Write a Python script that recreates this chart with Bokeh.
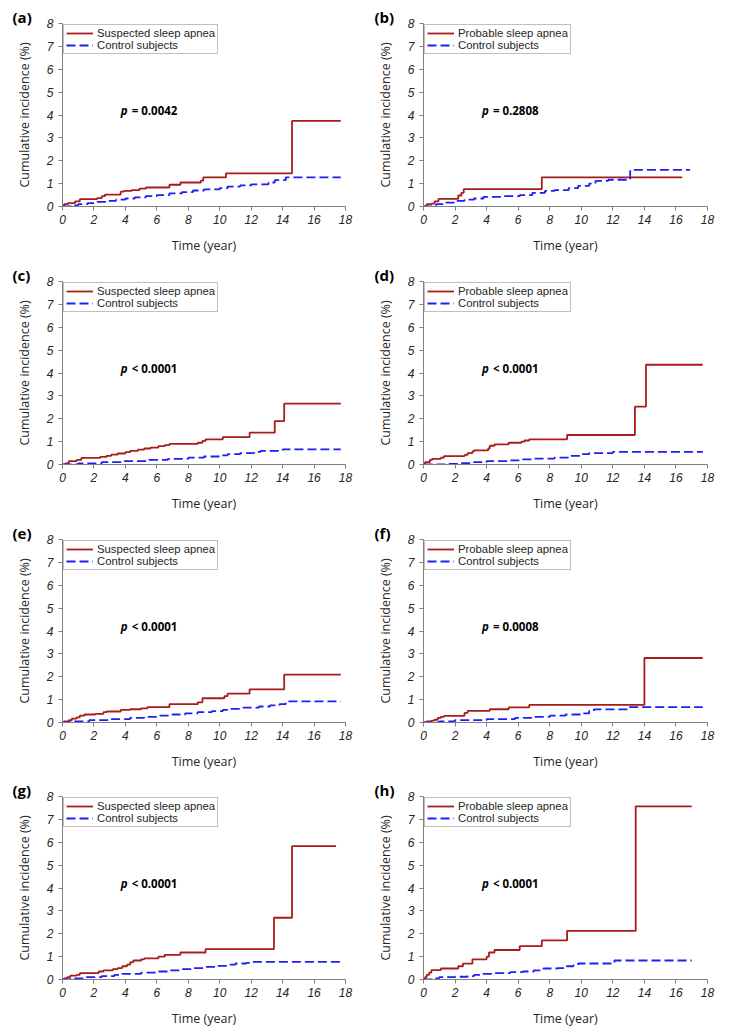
from bokeh.plotting import figure
from bokeh.layouts import column, row
from bokeh.models import Range1d, FixedTicker, Title
from bokeh.core.properties import value
from bokeh.embed import file_html
from bokeh.resources import INLINE

# ---------------- data ----------------
X_TICKS = [0, 2, 4, 6, 8, 10, 12, 14, 16, 18]
Y_TICKS = [0, 1, 2, 3, 4, 5, 6, 7, 8]
PANEL_TAGS = ["(a)", "(b)", "(c)", "(d)", "(e)", "(f)", "(g)", "(h)"]
GROUP_NAMES = ["Suspected sleep apnea", "Probable sleep apnea"]
CONTROL_NAME = "Control subjects"
P_VALUES = ["= 0.0042", "= 0.2808", "< 0.0001", "< 0.0001",
            "< 0.0001", "= 0.0008", "< 0.0001", "< 0.0001"]

# (a)
A_RED_T = [0, 0.1, 0.35, 0.8, 1.1, 2.2, 2.5, 2.7, 3.7, 3.9, 4.4, 4.9, 5.3, 6.8, 7.5, 8.8, 8.95, 10.4, 14.6, 17.7]
A_RED_V = [0, 0.1, 0.15, 0.22, 0.32, 0.37, 0.45, 0.52, 0.65, 0.68, 0.72, 0.78, 0.83, 0.95, 1.05, 1.13, 1.27, 1.45, 3.74, 3.74]
A_BLU_T = [0, 0.5, 1.0, 1.6, 2.2, 2.8, 3.4, 4.0, 4.6, 5.3, 6.0, 6.8, 7.6, 8.3, 9.0, 10.0, 10.5, 11.3, 12.0, 13.1, 13.5, 14.2, 17.7]
A_BLU_V = [0, 0.05, 0.1, 0.15, 0.2, 0.25, 0.3, 0.35, 0.4, 0.45, 0.5, 0.57, 0.63, 0.7, 0.75, 0.8, 0.87, 0.92, 0.97, 1.05, 1.15, 1.27, 1.27]
# (b)
B_RED_T = [0, 0.2, 0.5, 0.7, 0.95, 2.2, 2.4, 2.55, 7.5, 16.4]
B_RED_V = [0, 0.1, 0.13, 0.22, 0.33, 0.48, 0.6, 0.76, 1.27, 1.27]
B_BLU_T = [0, 0.5, 0.8, 1.3, 2.0, 2.6, 3.2, 3.8, 5.0, 6.1, 6.9, 7.7, 8.3, 9.2, 9.8, 10.5, 10.9, 11.7, 13.1, 16.9]
B_BLU_V = [0, 0.05, 0.1, 0.17, 0.25, 0.3, 0.35, 0.42, 0.45, 0.5, 0.6, 0.68, 0.72, 0.8, 0.9, 1.0, 1.12, 1.17, 1.6, 1.6]
# (c)
C_RED_T = [0, 0.2, 0.4, 0.9, 1.2, 2.4, 2.8, 3.1, 3.5, 4.0, 4.3, 4.8, 5.2, 5.6, 6.1, 6.5, 6.8, 8.6, 8.9, 9.1, 10.2, 11.9, 13.5, 14.1, 17.7]
C_RED_V = [0, 0.05, 0.15, 0.2, 0.29, 0.33, 0.38, 0.43, 0.48, 0.54, 0.6, 0.65, 0.7, 0.74, 0.8, 0.85, 0.9, 0.95, 1.03, 1.1, 1.2, 1.39, 1.9, 2.66, 2.66]
C_BLU_T = [0, 1.0, 2.5, 3.8, 5.5, 6.7, 8.0, 9.0, 10.0, 10.5, 11.3, 12.2, 12.6, 14.0, 17.7]
C_BLU_V = [0, 0.05, 0.1, 0.15, 0.2, 0.25, 0.3, 0.35, 0.4, 0.45, 0.5, 0.55, 0.6, 0.66, 0.66]
# (d)
D_RED_T = [0, 0.1, 0.4, 0.55, 1.1, 1.3, 2.6, 2.8, 3.1, 3.2, 4.1, 4.2, 4.5, 5.4, 6.2, 6.4, 6.7, 9.1, 13.4, 14.1, 17.7]
D_RED_V = [0, 0.1, 0.2, 0.25, 0.3, 0.37, 0.42, 0.5, 0.57, 0.62, 0.7, 0.82, 0.88, 0.95, 1.0, 1.05, 1.1, 1.29, 2.53, 4.36, 4.36]
D_BLU_T = [0, 1.5, 2.2, 3.0, 4.0, 5.5, 6.3, 7.0, 8.3, 9.3, 10.0, 10.5, 12.0, 17.7]
D_BLU_V = [0, 0.03, 0.06, 0.1, 0.15, 0.18, 0.22, 0.26, 0.3, 0.38, 0.45, 0.5, 0.55, 0.55]
# (e)
E_RED_T = [0, 0.1, 0.4, 0.6, 0.9, 1.1, 1.4, 2.1, 2.6, 2.8, 3.7, 4.3, 5.0, 5.4, 6.8, 8.6, 8.9, 10.3, 10.5, 11.9, 14.1, 17.7]
E_RED_V = [0, 0.05, 0.1, 0.17, 0.22, 0.3, 0.35, 0.38, 0.45, 0.48, 0.55, 0.58, 0.62, 0.67, 0.8, 0.88, 1.06, 1.15, 1.26, 1.45, 2.09, 2.09]
E_BLU_T = [0, 0.5, 1.7, 3.0, 4.3, 5.2, 6.2, 7.0, 7.8, 8.6, 9.5, 10.2, 10.6, 11.5, 12.5, 13.2, 13.8, 14.2, 17.7]
E_BLU_V = [0, 0.05, 0.1, 0.15, 0.2, 0.25, 0.3, 0.35, 0.4, 0.45, 0.5, 0.55, 0.6, 0.65, 0.7, 0.75, 0.8, 0.92, 0.92]
# (f)
F_RED_T = [0, 0.2, 0.5, 0.7, 0.9, 1.1, 1.3, 2.6, 2.8, 4.2, 5.4, 6.7, 14.0, 17.7]
F_RED_V = [0, 0.05, 0.08, 0.12, 0.2, 0.25, 0.29, 0.42, 0.51, 0.58, 0.66, 0.77, 2.82, 2.82]
F_BLU_T = [0, 1.0, 2.0, 4.0, 5.8, 7.0, 8.0, 9.0, 10.0, 10.5, 10.8, 13.0, 17.7]
F_BLU_V = [0, 0.05, 0.1, 0.15, 0.2, 0.25, 0.3, 0.35, 0.4, 0.5, 0.57, 0.67, 0.67]
# (g)
G_RED_T = [0, 0.1, 0.3, 0.5, 0.9, 1.1, 2.3, 2.6, 3.2, 3.5, 3.8, 4.1, 4.3, 4.5, 5.0, 5.2, 6.1, 6.5, 7.5, 9.1, 13.45, 14.6, 17.4]
G_RED_V = [0, 0.05, 0.1, 0.17, 0.2, 0.28, 0.35, 0.4, 0.45, 0.5, 0.58, 0.65, 0.75, 0.83, 0.88, 0.92, 1.0, 1.08, 1.18, 1.33, 2.7, 5.83, 5.83]
G_BLU_T = [0, 0.5, 1.5, 2.5, 3.3, 3.8, 5.0, 6.0, 6.8, 7.5, 8.3, 9.0, 9.8, 10.5, 11.0, 11.7, 12.1, 17.7]
G_BLU_V = [0, 0.05, 0.1, 0.15, 0.2, 0.25, 0.3, 0.35, 0.4, 0.45, 0.5, 0.55, 0.6, 0.65, 0.7, 0.73, 0.77, 0.77]
# (h)
H_RED_T = [0, 0.1, 0.2, 0.35, 0.5, 1.1, 2.2, 2.5, 3.1, 4.0, 4.15, 4.5, 6.1, 7.5, 9.1, 13.45, 17.0]
H_RED_V = [0, 0.1, 0.2, 0.3, 0.41, 0.48, 0.58, 0.69, 0.88, 1.0, 1.18, 1.29, 1.46, 1.71, 2.13, 7.57, 7.57]
H_BLU_T = [0, 0.5, 1.0, 2.0, 2.8, 3.2, 3.6, 4.5, 5.5, 6.3, 7.0, 7.6, 8.5, 9.0, 9.5, 9.8, 12.1, 17.0]
H_BLU_V = [0, 0.05, 0.1, 0.12, 0.15, 0.2, 0.25, 0.28, 0.32, 0.35, 0.4, 0.48, 0.5, 0.58, 0.62, 0.7, 0.83, 0.83]

SERIES = [
    (A_RED_T, A_RED_V, A_BLU_T, A_BLU_V),
    (B_RED_T, B_RED_V, B_BLU_T, B_BLU_V),
    (C_RED_T, C_RED_V, C_BLU_T, C_BLU_V),
    (D_RED_T, D_RED_V, D_BLU_T, D_BLU_V),
    (E_RED_T, E_RED_V, E_BLU_T, E_BLU_V),
    (F_RED_T, F_RED_V, F_BLU_T, F_BLU_V),
    (G_RED_T, G_RED_V, G_BLU_T, G_BLU_V),
    (H_RED_T, H_RED_V, H_BLU_T, H_BLU_V),
]

# ---------------- style ----------------
RED = "#a81c1c"
BLUE = "#1e1ef5"
AXIS_GRAY = "#808080"
TEXT = "#262626"


def make_panel(i):
    rt, rv, bt, bv = SERIES[i]
    left = (i % 2 == 0)
    last_row = (i >= 6)
    if left:
        width, bl, br, toff = 368, 62, 23, -50
    else:
        width, bl, br, toff = 364, 55, 25, -49
    if last_row:
        height, btop, bb = 256, 22, 51
    else:
        height, btop, bb = 258, 23, 52
    p = figure(width=width, height=height, output_backend="svg", toolbar_location=None,
               x_range=Range1d(0, 18), y_range=Range1d(0, 8),
               min_border_left=bl, min_border_right=br,
               min_border_top=btop, min_border_bottom=bb)
    p.outline_line_color = None
    p.xgrid.visible = False
    p.ygrid.visible = False
    p.background_fill_color = "white"
    p.border_fill_color = "white"

    p.step(rt, rv, mode="after", line_color=RED, line_width=1.8,
           legend_label=GROUP_NAMES[i % 2])
    p.step(bt, bv, mode="after", line_color=BLUE, line_width=1.8,
           line_dash="9 4", legend_label=CONTROL_NAME)

    p.xaxis.ticker = FixedTicker(ticks=X_TICKS)
    p.yaxis.ticker = FixedTicker(ticks=Y_TICKS)
    p.xaxis.axis_label = "Time (year)"
    p.yaxis.axis_label = "Cumulative incidence (%)"
    for ax in (p.xaxis[0], p.yaxis[0]):
        ax.axis_line_color = AXIS_GRAY
        ax.major_tick_line_color = AXIS_GRAY
        ax.major_tick_out = 4
        ax.major_tick_in = 0
        ax.minor_tick_line_color = None
        ax.major_label_text_font = "Liberation Sans"
        ax.major_label_text_font_style = "italic"
        ax.major_label_text_font_size = "12px"
        ax.major_label_text_color = TEXT
        ax.axis_label_text_font = "Open Sans"
        ax.axis_label_text_font_style = "normal"
        ax.axis_label_text_font_size = "12.5px"
        ax.axis_label_text_color = TEXT
    p.xaxis.major_label_standoff = 4
    p.xaxis.axis_label_standoff = 10
    p.yaxis.major_label_standoff = 5
    p.yaxis.axis_label_standoff = 11

    lg = p.legend[0]
    lg.location = "top_left"
    lg.margin = 1
    lg.padding = 2
    lg.spacing = 0
    lg.glyph_width = 27
    lg.glyph_height = 12
    lg.label_height = 12
    lg.label_standoff = 4
    lg.label_text_font = "Liberation Sans"
    lg.label_text_font_size = "11.3px"
    lg.label_text_color = TEXT
    lg.border_line_color = AXIS_GRAY
    lg.border_line_width = 1
    lg.background_fill_alpha = 1.0

    # p-value annotation
    p.text(x=[3.7], y=[4.2], text=["p"], text_font=value("Open Sans"),
           text_font_style="bold italic", text_font_size="11.5px",
           text_color="black", text_baseline="middle", text_align="left")
    p.text(x=[3.7], y=[4.2], x_offset=11, text=[P_VALUES[i]], text_font=value("Open Sans"),
           text_font_style="bold", text_font_size="11.5px",
           text_color="black", text_baseline="middle", text_align="left")

    # panel tag
    p.title = Title(text=PANEL_TAGS[i], align="left", offset=toff,
                    text_font="Open Sans", text_font_style="bold",
                    text_font_size="15px", text_color="black", standoff=-6)
    return p


panels = [make_panel(i) for i in range(8)]
layout = column(row(panels[0], panels[1]), row(panels[2], panels[3]),
                row(panels[4], panels[5]), row(panels[6], panels[7]))

open("out.html", "w").write(file_html(layout, INLINE))
